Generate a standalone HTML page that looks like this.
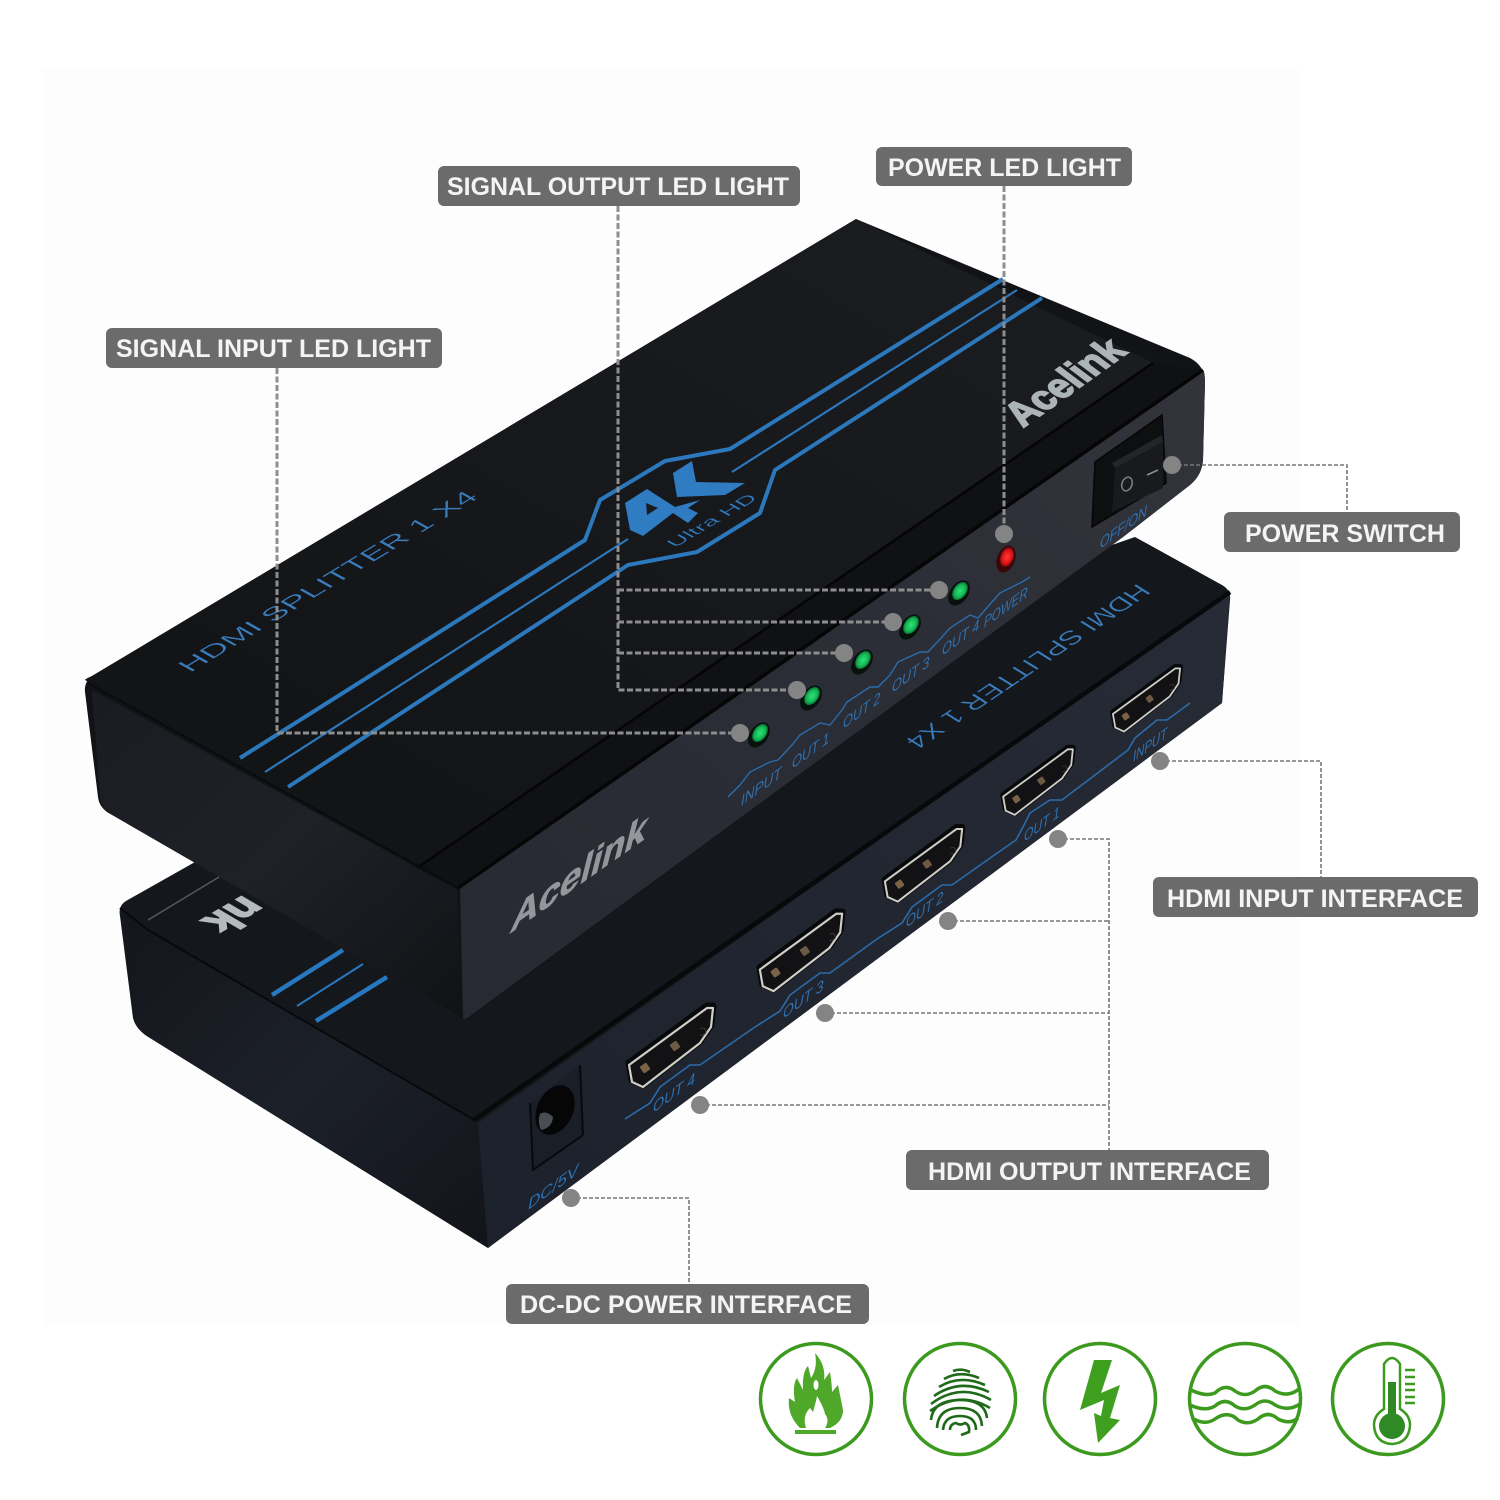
<!DOCTYPE html>
<html><head><meta charset="utf-8"><style>
html,body{margin:0;padding:0;background:#fff}
svg{display:block}
text{font-family:"Liberation Sans",sans-serif}
.l{font-weight:bold;font-size:25px;fill:#f4f4f4}
.b{fill:#2f72b2;font-size:15px;font-style:italic}
</style></head><body>
<svg width="1500" height="1500" viewBox="0 0 1500 1500" xmlns="http://www.w3.org/2000/svg">
<defs>
<linearGradient id="ft" x1="0" y1="1" x2="1" y2="0"><stop offset="0" stop-color="#282a33"/><stop offset=".6" stop-color="#2c2e37"/><stop offset="1" stop-color="#33343b"/></linearGradient>
<linearGradient id="fl" x1="0" y1="1" x2="1" y2="0"><stop offset="0" stop-color="#1c212b"/><stop offset="1" stop-color="#272b35"/></linearGradient>
<linearGradient id="tp" x1="0" y1="1" x2="1" y2="0"><stop offset="0" stop-color="#101214"/><stop offset="1" stop-color="#1b1d21"/></linearGradient>
<linearGradient id="lf" x1="0" y1="0" x2="1" y2="1"><stop offset="0" stop-color="#1a1c22"/><stop offset=".5" stop-color="#1f2128"/><stop offset="1" stop-color="#111215"/></linearGradient>
<linearGradient id="lf2" x1="0" y1="0" x2="1" y2="1"><stop offset="0" stop-color="#14161b"/><stop offset=".5" stop-color="#1c2029"/><stop offset="1" stop-color="#12141a"/></linearGradient>
<radialGradient id="gr"><stop offset="0" stop-color="#2ee27a"/><stop offset=".7" stop-color="#14b653"/><stop offset="1" stop-color="#0b6e34"/></radialGradient>
<radialGradient id="rd"><stop offset="0" stop-color="#ff3a3a"/><stop offset=".7" stop-color="#dd1418"/><stop offset="1" stop-color="#7a0c0e"/></radialGradient>
<g id="port">
<path d="M-42,20 L-39,37 L-28,42 L29,-2 L40,-18 L42,-37 L36,-37 Z" fill="#08090a" stroke="#08090a" stroke-width="7" stroke-linejoin="round" transform="translate(0,-2)"/>
<path d="M-42,20 L-39,37 L-28,42 L29,-2 L40,-18 L42,-37 L36,-37 Z" fill="#121214" stroke="#cfcfc8" stroke-width="2.2" stroke-linejoin="round"/>
<rect x="-30" y="19" width="8" height="8" rx="1.5" fill="#7a6347" transform="rotate(-35 -26 23)"/>
<rect x="0" y="-3" width="8" height="8" rx="1.5" fill="#6d5a44" transform="rotate(-35 4 1)"/>
<path d="M29,-16 q5,-3 6,3 q-2,4 -6,3" fill="none" stroke="#3a3029" stroke-width="1.2"/>
</g>
</defs>
<rect width="1500" height="1500" fill="#fff"/>
<rect x="42" y="68" width="1258" height="1258" fill="#fdfdfd"/>

<!-- lower device -->
<path d="M195,862 L126,901 Q118,906 120,916 L133,1018 Q136,1030 150,1038 L488,1248 L1222,703 L1230,600 Q1231,590 1222,585 L1135,537 Z" fill="#14171b"/>
<path d="M127,918 L148,930 L478,1123 L488,1248 L150,1038 Q136,1030 135,1018 Z" fill="url(#lf2)"/>
<path d="M478,1123 L1230,592 L1222,703 L488,1248 Z" fill="url(#fl)"/>
<path d="M474,1120 L1230,592" stroke="#08090b" stroke-width="4.5" fill="none"/>
<path d="M120,908 L148,930 L476,1121" stroke="#08090a" stroke-width="2" fill="none"/>
<path d="M148,920 L219,877" stroke="#55585c" stroke-width="1.5"/>
<path d="M272,995 L343,950 M316,1021 L387,977" stroke="#2878c0" stroke-width="4.5"/>
<path d="M297,1006 L363,964" stroke="#2878c0" stroke-width="2"/>
<text transform="matrix(-.85,.5,-.85,-.5,244,895)" font-size="44" font-weight="bold" fill="#b4babd" stroke="#b4babd" stroke-width="2">nk</text>

<!-- lower device details -->
<text transform="matrix(-.83,.56,-.8,-.5,1138,583)" font-size="26" fill="#3a7dbd" stroke="#14171b" stroke-width=".35" textLength="282" lengthAdjust="spacingAndGlyphs">HDMI SPLITTER 1 X4</text>
<path d="M530,1103 L580,1065 L583,1135 L533,1170 Z" fill="#1a1e27"/>
<path d="M530,1103 L533,1170 L583,1135 M580,1065 L583,1135" stroke="#08090b" stroke-width="2" fill="none"/>
<ellipse cx="555" cy="1110" rx="18" ry="26" transform="rotate(25 555 1110)" fill="#060607"/>
<path d="M540,1114 Q546,1110 553,1117 Q552,1128 541,1130 Q537,1122 540,1114Z" fill="#4a4d52"/>
<use href="#port" transform="translate(671,1045)"/>
<use href="#port" transform="translate(801,950) scale(.98)"/>
<use href="#port" transform="translate(923.5,863) scale(.92)"/>
<use href="#port" transform="translate(1038,780) scale(.83)"/>
<use href="#port" transform="translate(1146.5,698) scale(.8)"/>
<g fill="none" stroke="#2b6cab" stroke-width="1.6">
<polyline points="625,1119 650,1103 660,1087 690,1065 700,1065 755,1027 780,1011 790,995 820,973 830,973 877,939 902,923 912,907 942,885 952,885 993,856 1016,840 1023,827 1030,813 1050,800 1062,800 1128,750 1135,738 1157,720 1167,720 1190,703"/>
</g>
<text class="b" transform="matrix(.81,-.585,0,1,653,1113)" font-size="16" textLength="52" lengthAdjust="spacingAndGlyphs">OUT 4</text>
<text class="b" transform="matrix(.81,-.585,0,1,783,1019)" textLength="50" lengthAdjust="spacingAndGlyphs">OUT 3</text>
<text class="b" transform="matrix(.81,-.585,0,1,906,928)" textLength="46" lengthAdjust="spacingAndGlyphs">OUT 2</text>
<text class="b" transform="matrix(.81,-.585,0,1,1024,842)" textLength="44" lengthAdjust="spacingAndGlyphs">OUT 1</text>
<text class="b" transform="matrix(.81,-.585,0,1,1133,762)" textLength="42" lengthAdjust="spacingAndGlyphs">INPUT</text>
<text class="b" transform="matrix(.81,-.585,0,1,528,1210)" textLength="62" lengthAdjust="spacingAndGlyphs">DC/5V</text>

<!-- upper device -->
<path d="M856,219 L1190,358 Q1205,366 1205,382 L1203,460 Q1202,475 1190,485 L1123,537 L468,1019 L107,812 Q99,806 98,797 L85,692 Q84,682 92,676 Z" fill="#121316"/>
<path d="M92,690 L457,890 L463,1018 L107,812 Q101,806 100,797 Z" fill="url(#lf)"/>
<path d="M856,219 L1153,363 L417,868 L85,680 Q85,679 92,676 Z" fill="url(#tp)"/>
<path d="M417,868 L1153,363 L1203,370 L460,887 Z" fill="#101114"/>
<path d="M417,868 L1153,363" stroke="#050506" stroke-width="2.5"/>
<path d="M460,887 L1203,370 Q1205,372 1205,382 L1203,460 Q1202,475 1190,485 L1123,537 L466,1019 L463,1018 Z" fill="url(#ft)"/>
<path d="M458,888 L1203,370" stroke="#060607" stroke-width="3.5"/>
<path d="M88,683 L458,888" stroke="#0a0b0c" stroke-width="2"/>

<!-- blue lines -->
<g fill="none" stroke="#2b78bc" stroke-linejoin="round">
<polyline stroke-width="4" points="240,758 585,540 600,500 665,461 730,449 1003,279"/>
<polyline stroke-width="4" points="288,787 628,565 697,552 760,513 775,470 1042,298"/>
<polyline stroke-width="2.2" points="265,772 628,539"/>
<polyline stroke-width="2.2" points="732,472 1017,290"/>
</g>
<polygon fill="#2f7cc2" points="625,503 647,489 675,507 700,500 688,508 698,513 688,523 673,513 643,536 630,530"/>
<polygon fill="#1a1c1f" points="646,503 658,508 647,515"/>
<polygon fill="#2f7cc2" points="673,473 692,461 696,482 745,483 725,495 677,497"/>
<text transform="matrix(.86,-.51,.8,.45,675,548)" font-size="18" fill="#2f7cc2" stroke="#17191c" stroke-width=".25" textLength="97" lengthAdjust="spacingAndGlyphs">Ultra HD</text>
<text transform="matrix(.855,-.518,.8,.45,190,673)" font-size="26" fill="#3a7dbd" stroke="#15171a" stroke-width=".35" textLength="339" lengthAdjust="spacingAndGlyphs">HDMI SPLITTER 1 X4</text>
<text transform="matrix(.81,-.58,.88,.66,1023,428)" font-size="37" font-weight="bold" fill="#adb4b8" stroke="#adb4b8" stroke-width="1.6" textLength="130" lengthAdjust="spacingAndGlyphs">Acelink</text>
<text transform="matrix(.82,-.575,-.25,1,509,934)" font-size="42" font-weight="bold" fill="#93979c" stroke="#93979c" stroke-width=".9" textLength="164" lengthAdjust="spacingAndGlyphs">Acelink</text>

<!-- switch -->
<path d="M1095,462 L1162,415 L1166,483 L1092,527 Z" fill="#0e0f11" stroke="#060607" stroke-width="1.5"/>
<path d="M1115,468 L1163,442 L1163,488 L1112,512 Z" fill="#191a1d"/>
<path d="M1112,463 L1162,435 L1163,442 L1115,468 Z" fill="#242529"/>
<ellipse cx="1127" cy="484" rx="5" ry="7" fill="none" stroke="#777b80" stroke-width="1.6" transform="rotate(20 1127 484)"/>
<path d="M1147,475 L1158,470" stroke="#8a8e92" stroke-width="1.6"/>
<text class="b" transform="matrix(.81,-.585,0,1,1100,549)" textLength="58" lengthAdjust="spacingAndGlyphs">OFF/ON</text>

<!-- LED area -->
<polyline fill="none" stroke="#2b6cab" stroke-width="1.4" points="728,797 740,785 750,772 770,762 778,760 792,745 800,735 820,723 830,725 842,710 847,702 870,687 878,687 890,675 898,662 920,652 928,652 942,637 950,628 970,615 978,618 992,602 1000,593 1022,582 1030,577"/>
<text class="b" transform="matrix(.81,-.585,0,1,741,806)" textLength="50" lengthAdjust="spacingAndGlyphs">INPUT</text>
<text class="b" transform="matrix(.81,-.585,0,1,792,769)" textLength="46" lengthAdjust="spacingAndGlyphs">OUT 1</text>
<text class="b" transform="matrix(.81,-.585,0,1,843,729)" textLength="46" lengthAdjust="spacingAndGlyphs">OUT 2</text>
<text class="b" transform="matrix(.81,-.585,0,1,892,693)" textLength="46" lengthAdjust="spacingAndGlyphs">OUT 3</text>
<text class="b" transform="matrix(.81,-.585,0,1,942,656)" textLength="46" lengthAdjust="spacingAndGlyphs">OUT 4</text>
<text class="b" transform="matrix(.81,-.585,0,1,984,628)" textLength="54" lengthAdjust="spacingAndGlyphs">POWER</text>

<g>
<ellipse cx="759" cy="735" rx="9" ry="14" transform="rotate(35 759 735)" fill="#07120c"/>
<ellipse cx="760" cy="733" rx="6.5" ry="10" transform="rotate(35 760 733)" fill="url(#gr)"/>
<ellipse cx="811" cy="698" rx="9" ry="14" transform="rotate(35 811 698)" fill="#07120c"/>
<ellipse cx="812" cy="696" rx="6.5" ry="10" transform="rotate(35 812 696)" fill="url(#gr)"/>
<ellipse cx="862" cy="662" rx="9" ry="14" transform="rotate(35 862 662)" fill="#07120c"/>
<ellipse cx="863" cy="660" rx="6.5" ry="10" transform="rotate(35 863 660)" fill="url(#gr)"/>
<ellipse cx="910" cy="627" rx="9" ry="14" transform="rotate(35 910 627)" fill="#07120c"/>
<ellipse cx="911" cy="625" rx="6.5" ry="10" transform="rotate(35 911 625)" fill="url(#gr)"/>
<ellipse cx="959" cy="593" rx="9" ry="14" transform="rotate(35 959 593)" fill="#07120c"/>
<ellipse cx="960" cy="591" rx="6.5" ry="10" transform="rotate(35 960 591)" fill="url(#gr)"/>
<ellipse cx="1006" cy="559" rx="9" ry="14" transform="rotate(20 1006 559)" fill="#3a0808"/>
<ellipse cx="1007" cy="557" rx="6.5" ry="10" transform="rotate(20 1007 557)" fill="url(#rd)"/>
</g>

<!-- leaders -->
<g fill="none" stroke="#8e8e8e" stroke-width="3" stroke-dasharray="6 2.5">
<path d="M1004,186 V534"/>
<path d="M618,206 V690 H797 M618,590 H939 M618,622 H893 M618,653 H844"/>
<path d="M277,368 V733 H740"/>
</g>
<g fill="none" stroke="#777" stroke-width="1.6" stroke-dasharray="4 2">
<path d="M1172,465 H1347 V512"/>
<path d="M1160,761 H1321 V877"/>
<path d="M1058,839 H1109 V1150 M948,921 H1109 M825,1013 H1109 M700,1105 H1109"/>
<path d="M571,1198 H689 V1284"/>
</g>
<g fill="#848484">
<circle cx="1004" cy="534" r="9"/><circle cx="939" cy="590" r="9"/><circle cx="893" cy="622" r="9"/><circle cx="844" cy="653" r="9"/><circle cx="797" cy="690" r="9"/><circle cx="740" cy="733" r="9"/>
<circle cx="1172" cy="465" r="9"/><circle cx="1160" cy="761" r="9"/><circle cx="1058" cy="839" r="9"/><circle cx="948" cy="921" r="9"/><circle cx="825" cy="1013" r="9"/><circle cx="700" cy="1105" r="9"/><circle cx="571" cy="1198" r="9"/>
</g>

<!-- labels -->
<g fill="#6b6b6b">
<rect x="876" y="147" width="256" height="39" rx="6"/>
<rect x="438" y="166" width="362" height="40" rx="6"/>
<rect x="106" y="328" width="336" height="40" rx="6"/>
<rect x="1224" y="512" width="236" height="40" rx="6"/>
<rect x="1153" y="877" width="325" height="40" rx="6"/>
<rect x="906" y="1150" width="363" height="40" rx="6"/>
<rect x="506" y="1284" width="363" height="40" rx="6"/>
</g>
<text class="l" x="888" y="176" textLength="233" lengthAdjust="spacingAndGlyphs">POWER LED LIGHT</text>
<text class="l" x="447" y="195" textLength="342" lengthAdjust="spacingAndGlyphs">SIGNAL OUTPUT LED LIGHT</text>
<text class="l" x="116" y="357" textLength="315" lengthAdjust="spacingAndGlyphs">SIGNAL INPUT LED LIGHT</text>
<text class="l" x="1245" y="542" textLength="200" lengthAdjust="spacingAndGlyphs">POWER SWITCH</text>
<text class="l" x="1167" y="907" textLength="296" lengthAdjust="spacingAndGlyphs">HDMI INPUT INTERFACE</text>
<text class="l" x="928" y="1180" textLength="323" lengthAdjust="spacingAndGlyphs">HDMI OUTPUT INTERFACE</text>
<text class="l" x="520" y="1313" textLength="332" lengthAdjust="spacingAndGlyphs">DC-DC POWER INTERFACE</text>

<!-- icons -->
<g fill="none" stroke="#3c9a1f" stroke-width="3.5">
<circle cx="816" cy="1399" r="55.5"/><circle cx="960" cy="1399" r="55.5"/><circle cx="1100" cy="1399" r="55.5"/><circle cx="1245" cy="1399" r="55.5"/><circle cx="1388" cy="1399" r="55.5"/>
</g>
<path d="M800,1428 Q787,1415 789,1398 L795,1402 Q792,1385 797,1378 L803,1390 Q802,1372 808,1366 L811,1378 Q818,1368 815,1353 Q826,1365 824,1380 L830,1372 Q832,1385 832,1392 L838,1385 Q842,1405 843,1410 Q843,1422 830,1428 Z" fill="#4fa82a"/>
<path d="M806,1428 Q802,1416 810,1408 L813,1412 Q816,1402 817,1396 Q824,1408 825,1414 Q830,1420 825,1428 Z" fill="#fff"/>
<ellipse cx="816" cy="1385" rx="2.5" ry="5" fill="#fff"/>
<rect x="795" y="1430" width="41" height="4" fill="#4fa82a"/>
<g fill="none" stroke="#1e6a18" stroke-width="2.6">
<path d="M953,1371 Q961,1368 970,1372"/>
<path d="M944,1379 Q960,1370 979,1378"/>
<path d="M939,1387 Q960,1374 985,1385"/>
<path d="M934,1396 Q960,1378 989,1392"/>
<path d="M931,1404 Q960,1382 991,1400"/>
<path d="M930,1411 Q960,1390 990,1408"/>
<path d="M931,1420 Q933,1400 960,1400 Q985,1400 987,1418"/>
<path d="M937,1428 Q938,1408 960,1408 Q981,1408 982,1426"/>
<path d="M943,1430 Q944,1416 960,1416 Q976,1416 976,1430"/>
<path d="M950,1430 Q950,1424 956,1423 Q960,1426 965,1423 Q970,1425 969,1432 L961,1435"/>
</g>
<polygon fill="#3f9f1f" points="1094,1360 1112,1360 1101,1393 1120,1385 1110,1418 1120,1420 1098,1443 1094,1413 1101,1416 1104,1400 1080,1410"/>
<g fill="none" stroke="#3c9a1f" stroke-width="3.5">
<path d="M1191,1390 Q1205,1397 1215,1393 Q1225,1383 1235,1391 Q1245,1398 1255,1391 Q1265,1382 1275,1391 Q1288,1398 1299,1389"/>
<path d="M1190,1405 Q1205,1412 1215,1406 Q1225,1397 1235,1406 Q1245,1412 1255,1405 Q1265,1397 1275,1405 Q1288,1412 1300,1404"/>
<path d="M1192,1418 Q1205,1426 1215,1419 Q1228,1410 1238,1420 Q1248,1426 1258,1419 Q1268,1410 1278,1419 Q1290,1425 1298,1418"/>
</g>
<path d="M1384,1409 V1364 Q1392,1352 1400,1364 V1409 Q1410,1415 1410,1425 Q1409,1443 1392,1444 Q1375,1443 1374,1425 Q1374,1415 1384,1409 Z" fill="none" stroke="#3c9a1f" stroke-width="2.5"/>
<rect x="1388" y="1382" width="8" height="34" fill="#2f8a25"/>
<circle cx="1392" cy="1426" r="13" fill="#2f8a25"/>
<path d="M1405,1370 H1415 M1405,1377 H1415 M1405,1384 H1415 M1405,1390 H1415 M1405,1397 H1415 M1405,1403 H1415" stroke="#3c9a1f" stroke-width="2.5"/>
</svg>
</body></html>
